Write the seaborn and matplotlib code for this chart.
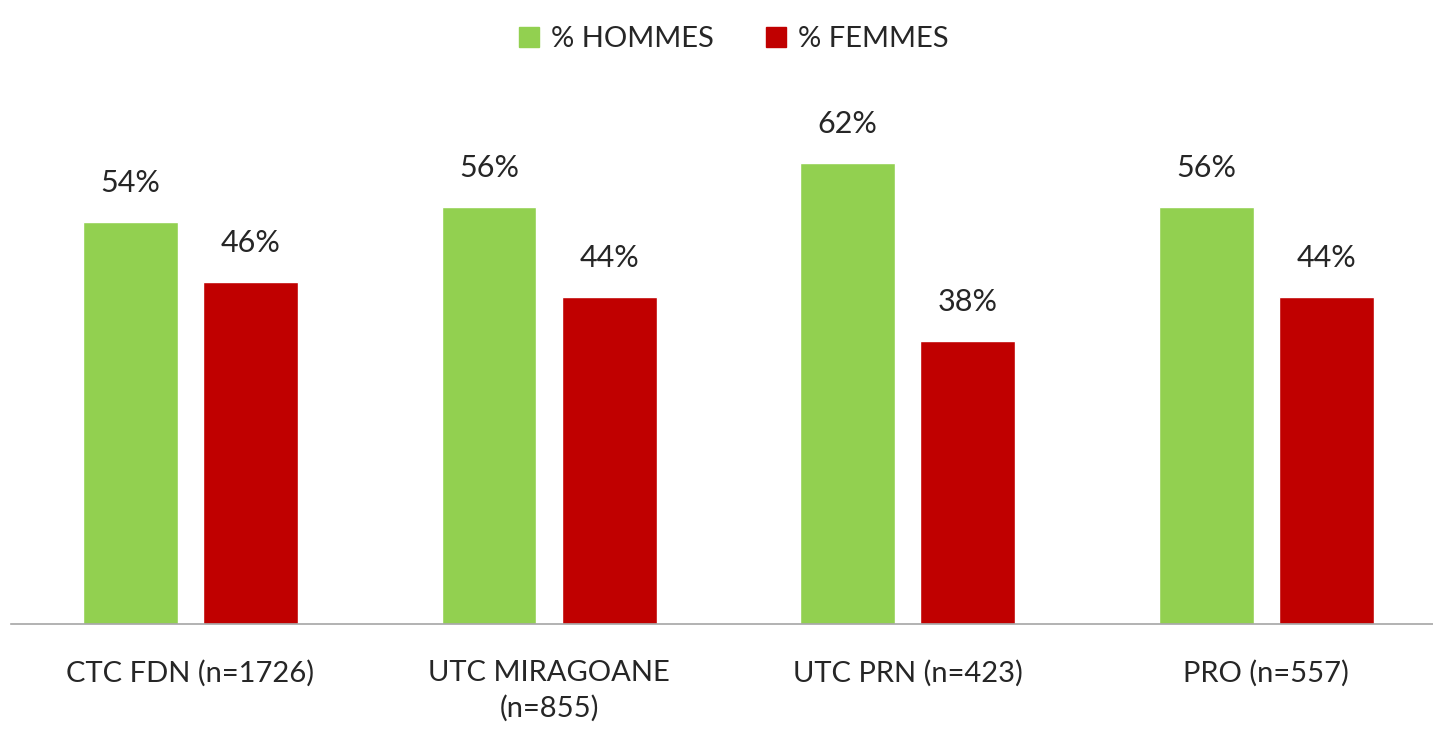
import pandas as pd
import seaborn as sns
import matplotlib.pyplot as plt

categories = ["CTC FDN (n=1726)", "UTC MIRAGOANE\n(n=855)", "UTC PRN (n=423)", "PRO (n=557)"]
hommes = [54, 56, 62, 56]
femmes = [46, 44, 38, 44]
series = ["% HOMMES", "% FEMMES"]
colors = ["#92D050", "#C00000"]

df = pd.DataFrame({
    "cat": categories * 2,
    "val": hommes + femmes,
    "serie": [series[0]] * 4 + [series[1]] * 4,
})

sns.set_style("white")
plt.rcParams["font.family"] = ["Lato", "DejaVu Sans"]

fig = plt.figure(figsize=(14.33, 7.31), dpi=100)
ax = fig.add_axes([0.0077, 0.1464, 0.9937, 0.733])

sns.barplot(data=df, x="cat", y="val", hue="serie", palette=colors,
            width=0.67, gap=0.21, ax=ax, legend=False, saturation=1)

for cont in ax.containers:
    ax.bar_label(cont, labels=[f"{v:.0f}%" for v in cont.datavalues],
                 padding=18, fontsize=22, color="#262626")

ax.set_xlim(-0.5, 3.47)
ax.set_ylim(0, 72)
ax.set_xlabel("")
ax.set_ylabel("")
ax.set_yticks([])
ax.tick_params(axis="x", length=0, pad=26, labelsize=21, labelcolor="#262626")
for lbl in ax.get_xticklabels():
    lbl.set_linespacing(1.4)
for s in ["top", "left", "right"]:
    ax.spines[s].set_visible(False)
ax.spines["bottom"].set_color("#a6a6a6")
ax.spines["bottom"].set_linewidth(1.2)

handles = [plt.Rectangle((0, 0), 1, 1, color=c) for c in colors]
fig.legend(handles, series, loc="upper center", bbox_to_anchor=(0.512, 1.0),
           ncol=2, frameon=False, fontsize=21, handlelength=0.7, handleheight=0.7,
           handletextpad=0.4, columnspacing=1.8, labelcolor="#262626")

fig.savefig("out.png", dpi=100)
